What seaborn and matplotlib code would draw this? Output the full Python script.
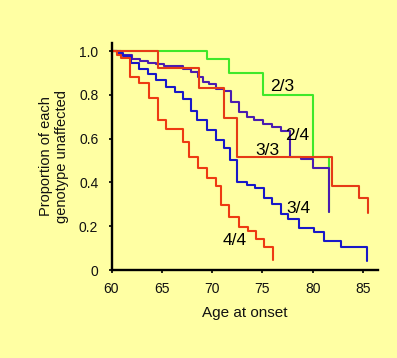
import matplotlib
matplotlib.use("Agg")
import matplotlib.pyplot as plt
import numpy as np
import pandas as pd
import seaborn as sns

# ---- data ----
genotypes = ["2/3", "2/4", "3/3", "3/4", "4/4"]

age_23 = [60, 69.46, 71.72, 75.02, 80.04, 81.66]
prop_23 = [1.0, 0.964, 0.902, 0.800, 0.517, 0.266]

age_24 = [60, 60.9, 62.0, 62.8, 63.6, 64.4, 65.2, 67.1, 67.9, 68.6, 69.1, 69.7, 70.4,
          71.2, 71.9, 72.7, 73.5, 74.2, 75.1, 76.0, 76.9, 77.7, 78.8, 80.0, 81.6]
prop_24 = [1.0, 0.982, 0.963, 0.954, 0.947, 0.941, 0.932, 0.918, 0.904, 0.881, 0.858,
           0.849, 0.829, 0.817, 0.768, 0.721, 0.699, 0.685, 0.669, 0.653, 0.635, 0.516,
           0.509, 0.468, 0.266]

age_33 = [60, 64.6, 68.7, 71.2, 72.5, 81.9, 84.6, 85.5]
prop_33 = [1.0, 0.925, 0.831, 0.694, 0.517, 0.386, 0.327, 0.259]

age_34 = [60, 60.5, 61.1, 61.9, 62.7, 63.6, 64.4, 65.4, 66.3, 67.1, 67.9, 68.5, 69.5,
          70.4, 71.2, 71.8, 72.5, 73.5, 74.3, 75.2, 76.0, 76.9, 77.6, 78.6, 80.1, 81.1,
          82.8, 85.4]
prop_34 = [1.0, 0.991, 0.977, 0.945, 0.918, 0.897, 0.868, 0.837, 0.814, 0.783, 0.726,
           0.685, 0.639, 0.594, 0.556, 0.502, 0.403, 0.388, 0.374, 0.329, 0.301, 0.256,
           0.233, 0.194, 0.174, 0.132, 0.103, 0.039]

age_44 = [60, 60.5, 60.9, 61.8, 62.7, 63.7, 64.6, 65.4, 67.1, 67.7, 68.6, 69.5, 70.4,
          70.9, 71.7, 72.7, 73.6, 74.4, 75.2, 76.1]
prop_44 = [1.0, 0.982, 0.968, 0.881, 0.854, 0.785, 0.685, 0.644, 0.584, 0.516, 0.466,
           0.420, 0.384, 0.297, 0.242, 0.196, 0.178, 0.142, 0.105, 0.046]

x_ticks = [60, 65, 70, 75, 80, 85]
y_ticks = [0, 0.2, 0.4, 0.6, 0.8, 1.0]
y_tick_labels = ["0", "0.2", "0.4", "0.6", "0.8", "1.0"]

# ---- build table ----
series = {"2/3": (age_23, prop_23), "2/4": (age_24, prop_24), "3/3": (age_33, prop_33),
          "3/4": (age_34, prop_34), "4/4": (age_44, prop_44)}
frames = []
for g in genotypes:
    a, p = series[g]
    frames.append(pd.DataFrame({"age": a, "prop": p, "genotype": g}))
df = pd.concat(frames, ignore_index=True)

colors = {"2/3": "#3FE82A", "2/4": "#4A1DB0", "3/3": "#E63A16",
          "3/4": "#1818C8", "4/4": "#EE3A12"}
bg = "#FFFFA3"

sns.set_theme(style="ticks")
plt.rcParams["font.family"] = ["Liberation Sans", "DejaVu Sans"]

fig = plt.figure(figsize=(3.97, 3.58), dpi=100, facecolor=bg)
ax = fig.add_axes([111.5 / 397, 88 / 358, (378 - 111.5) / 397, (270 - 43) / 358])
ax.set_facecolor(bg)

sns.lineplot(data=df, x="age", y="prop", hue="genotype", hue_order=genotypes,
             palette=colors, estimator=None, sort=False, drawstyle="steps-post",
             linewidth=1.5, legend=False, ax=ax)

ax.set_xlim(60, 86.5)
ax.set_ylim(0, 1.037)
ax.set_xticks(x_ticks)
ax.set_xticklabels([str(v) for v in x_ticks])
ax.set_yticks(y_ticks)
ax.set_yticklabels(y_tick_labels)
ax.tick_params(axis="both", labelsize=10, length=2.5, width=1.2, color="black",
               labelcolor="#111111")
ax.tick_params(axis="x", pad=6)
ax.tick_params(axis="y", pad=7)

for s in ["top", "right"]:
    ax.spines[s].set_visible(False)
for s in ["left", "bottom"]:
    ax.spines[s].set_linewidth(1.7)
    ax.spines[s].set_color("black")

ax.set_xlabel("Age at onset", fontsize=11, color="#111111")
ax.set_ylabel("Proportion of each\ngenotype unaffected", fontsize=10.5,
              color="#111111", linespacing=1.15)
ax.xaxis.set_label_coords(0.5, -0.16)
ax.yaxis.set_label_coords(-0.16, 0.5)

label_pos = {"2/3": (77.0, 0.837), "2/4": (78.5, 0.616), "3/3": (75.5, 0.545),
             "3/4": (78.6, 0.282), "4/4": (72.2, 0.134)}
for g in genotypes:
    x, y = label_pos[g]
    ax.text(x, y, g, fontsize=12.5, ha="center", va="center", color="black")

fig.savefig("out.png", dpi=100, facecolor=bg)
